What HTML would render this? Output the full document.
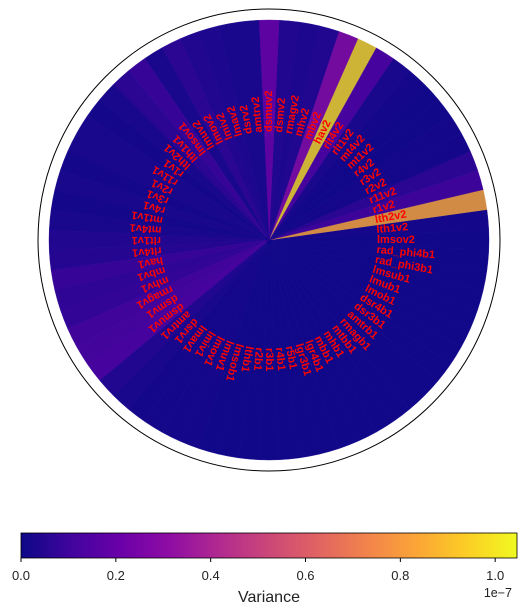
<!DOCTYPE html>
<html><head><meta charset="utf-8"><style>
html,body{margin:0;padding:0;background:#fff;width:526px;height:615px;overflow:hidden}
svg{display:block;font-family:"Liberation Sans","DejaVu Sans",sans-serif}
</style></head><body>
<svg id="chart" width="526" height="615">
<defs>
<linearGradient id="plasma" x1="0" x2="1" y1="0" y2="0">
<stop offset="0" stop-color="#0d0887"/><stop offset="0.1" stop-color="#41049d"/>
<stop offset="0.2" stop-color="#6a00a8"/><stop offset="0.3" stop-color="#8f0da4"/>
<stop offset="0.4" stop-color="#b12a90"/><stop offset="0.5" stop-color="#cc4778"/>
<stop offset="0.6" stop-color="#e16462"/><stop offset="0.7" stop-color="#f2844b"/>
<stop offset="0.8" stop-color="#fca636"/><stop offset="0.9" stop-color="#fcce25"/>
<stop offset="1" stop-color="#f0f921"/></linearGradient>
</defs>
<circle cx="269" cy="240" r="231" fill="none" stroke="#000" stroke-width="1"/>
<g id="bars"></g>
<g id="labels"></g>
<g>
<rect x="21" y="533" width="496" height="25" fill="url(#plasma)" stroke="#000" stroke-width="0.8"/>
<g id="cticks"></g>
<text x="269" y="602" font-size="16" text-anchor="middle" fill="#222">Variance</text>
<text x="512" y="597" font-size="12.5" text-anchor="end" fill="#222">1e−7</text>
</g>
</svg>
<script>
const categories = ["lmsov2","lth1v2","lth2v2","r1v2","r11v2","r2v2","r3v2","r4v2","mt1v2","mt4v2","rlt1v2","rlt4v2","hav2","mbv2","mhv2","rmagv2","dsmv2","dsmuv2","amtrv2","dsrv2","lmav2","lmiv2","lmov2","lmuv2",
"lmsov1","lth1v1","lth2v1","r1v1","r11v1","r2v1","r3v1","r4v1","mt1v1","mt4v1","rlt1v1","rlt4v1","hav1","mbv1","mhv1","rmagv1","dsmv1","dsmuv1","amtrv1","dsrv1","lmav1","lmiv1","lmov1","lmuv1",
"lmsob1","lthb1","r2b1","r3b1","r4b1","r5b1","lgr3b1","lgr4b1","mbb1","mhb1","mtbb1","rmagb1","amtrb1","dsr3b1","dsr4b1","lmob1","lmub1","lmsub1","rad_phi3b1","rad_phi4b1"];
// variance in units of 1e-7
const variances = [0.01,0.02,0.84,0.12,0.07,0.02,0.02,0.01,0.01,0.02,0.03,0.15,0.97,0.30,0.05,0.04,0.05,0.22,0.03,0.03,0.04,0.05,0.07,0.03,
0.10,0.07,0.03,0.02,0.03,0.03,0.02,0.03,0.02,0.03,0.05,0.06,0.10,0.08,0.09,0.13,0.14,0.15,0.05,0.03,0.02,0.02,0.02,0.02,
0.01,0.01,0.01,0.01,0.01,0.01,0.01,0.01,0.01,0.01,0.01,0.01,0.01,0.01,0.01,0.01,0.01,0.01,0.01,0.01];
const tickValues = [0,0.2,0.4,0.6,0.8,1.0];
const tickLabels = ["0.0","0.2","0.4","0.6","0.8","1.0"];
const vmax = 1.046;
const cx=269, cy=240, R=220, LR=108;
const stops=[[13,8,135],[65,4,157],[106,0,168],[143,13,164],[177,42,144],[204,71,120],[225,100,98],[242,132,75],[252,166,54],[252,206,37],[240,249,33]];
function cmap(v){let t=Math.max(0,Math.min(1,v/vmax))*10;let i=Math.min(9,Math.floor(t));let f=t-i;const a=stops[i],b=stops[i+1];
 const c=a.map((x,k)=>Math.round((x+(b[k]-x)*f)*0.82+[13,8,135][k]*0.18));return `rgb(${c[0]},${c[1]},${c[2]})`;}
function angleOf(i){return i*360/categories.length;}
function xAt(a,r){return cx+r*Math.cos(a*Math.PI/180);}
function yAt(a,r){return cy-r*Math.sin(a*Math.PI/180);}
const NS="http://www.w3.org/2000/svg";
const bars=document.getElementById('bars'), labels=document.getElementById('labels');
const w=360/categories.length;
categories.forEach((name,i)=>{
 const a=angleOf(i), a0=a-w/2, a1=a+w/2;
 const p=document.createElementNS(NS,'path');
 p.setAttribute('d',`M${cx},${cy} L${xAt(a0,R)},${yAt(a0,R)} A${R},${R} 0 0 0 ${xAt(a1,R)},${yAt(a1,R)} Z`);
 p.setAttribute('fill',cmap(variances[i]));
 p.setAttribute('stroke',cmap(variances[i]));
 p.setAttribute('stroke-width','0.4');
 
 
 bars.appendChild(p);
 const t=document.createElementNS(NS,'text');
 t.setAttribute('x',xAt(a,LR)); t.setAttribute('y',yAt(a,LR));
 t.setAttribute('transform',`rotate(${-a} ${xAt(a,LR)} ${yAt(a,LR)})`);
 t.setAttribute('text-anchor','start');
 t.setAttribute('dominant-baseline','central');
 t.setAttribute('font-size','11'); t.setAttribute('font-weight','bold'); t.setAttribute('fill','#ff0000');
 t.textContent=name;
 
 
 labels.appendChild(t);
});
const ct=document.getElementById('cticks');
function cbx(v){return 21+v/vmax*496;}
tickValues.forEach((v,i)=>{
 const l=document.createElementNS(NS,'line');
 l.setAttribute('x1',cbx(v)); l.setAttribute('x2',cbx(v)); l.setAttribute('y1',558); l.setAttribute('y2',562);
 l.setAttribute('stroke','#000');
 
 
 ct.appendChild(l);
 const t=document.createElementNS(NS,'text');
 t.setAttribute('x',cbx(v)); t.setAttribute('y',580); t.setAttribute('text-anchor','middle');
 t.setAttribute('font-size','13'); t.setAttribute('fill','#222');
 t.textContent=tickLabels[i];
 
 
 ct.appendChild(t);
});
</script>
</body></html>
